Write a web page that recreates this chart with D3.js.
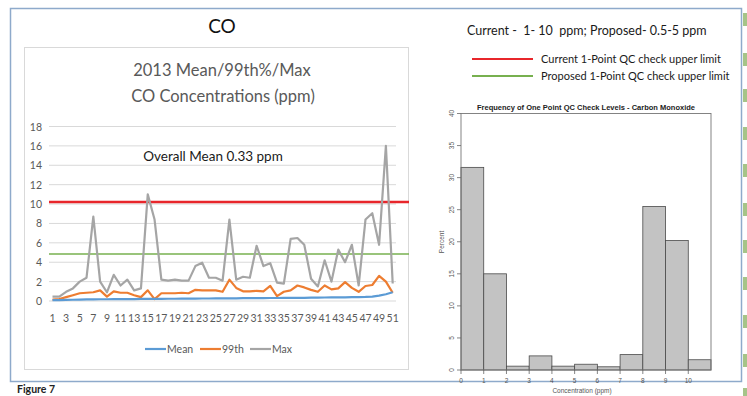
<!DOCTYPE html>
<html><head><meta charset="utf-8">
<script src="https://cdn.jsdelivr.net/npm/d3@7"></script>
<style>body{margin:0;background:#fff}svg{display:block}</style>
</head><body>
<script>
// ---- line chart data (monitor index 1..51) ----
const sites = d3.range(1, 52);
const meanVals = [0.08,0.1,0.12,0.13,0.15,0.16,0.17,0.18,0.18,0.19,0.19,0.2,0.2,0.21,0.21,0.22,0.22,0.23,0.23,0.24,0.24,0.25,0.26,0.26,0.27,0.27,0.28,0.28,0.29,0.29,0.3,0.3,0.31,0.31,0.32,0.32,0.33,0.33,0.34,0.35,0.36,0.37,0.38,0.38,0.39,0.4,0.42,0.46,0.55,0.7,0.9];
const p99Vals = [0.15,0.2,0.4,0.6,0.8,0.85,0.9,1.1,0.45,1.0,0.85,0.85,0.6,0.4,1.1,0.2,0.8,0.8,0.8,0.85,0.8,1.15,1.1,1.1,1.1,0.95,2.2,1.35,1.0,1.0,1.05,1.0,1.55,0.5,0.95,1.1,1.6,1.4,1.15,0.95,1.6,1.2,1.3,1.95,1.35,0.95,1.55,1.65,2.6,2.0,0.85];
const maxVals = [0.45,0.45,0.95,1.3,2.0,2.4,8.7,2.0,0.9,2.7,1.6,2.2,1.1,1.3,11.0,8.4,2.2,2.1,2.2,2.1,2.1,3.6,3.95,2.4,2.4,2.1,8.4,2.2,2.5,2.4,5.7,3.6,3.9,1.9,1.8,6.4,6.5,5.8,2.3,1.5,4.2,2.0,5.3,4.0,5.8,1.6,8.4,9.05,5.8,16.0,1.8];
const yTicksLine = [0,2,4,6,8,10,12,14,16,18];
const currentLimit = 10.2;
const proposedLimit = 4.85;
const seriesNames = ["Mean","99th","Max"];
const seriesColors = ["#5b9bd5","#ed7d31","#a5a5a5"];

// ---- histogram data ----
const binStarts = [0,1,2,3,4,5,6,7,8,9,10];
const binPercent = [31.6,15.0,0.6,2.2,0.6,0.9,0.5,2.4,25.5,20.2,1.6];
const histXTicks = [0,1,2,3,4,5,6,7,8,9,10];
const histYTicks = [0,5,10,15,20,25,30,35,40];

const narrow = "Lato,'Open Sans',sans-serif";
const svg = d3.select("body").append("svg").attr("width",747).attr("height",396);

// outer frame and right-edge green marks
svg.append("rect").attr("x",10.5).attr("y",8.5).attr("width",731).attr("height",373)
  .attr("fill","none").attr("stroke","#8eaacb").attr("stroke-width",1.5);
const markY = [13,53,89,127,164,203,240,277,315,354,388];
svg.selectAll("rect.mark").data(markY).join("rect").attr("class","mark")
  .attr("x",743).attr("y",d=>d).attr("width",4).attr("height",13).attr("fill","#a6c488");

// ---- left: line chart ----
svg.append("text").attr("x",222).attr("y",33).attr("text-anchor","middle")
  .attr("font-family",narrow).attr("font-size",19).attr("fill","#111").text("CO");
svg.append("rect").attr("x",24.5).attr("y",47.5).attr("width",384).attr("height",322)
  .attr("fill","#fff").attr("stroke","#d9d9d9");
svg.append("text").attr("x",222).attr("y",76).attr("text-anchor","middle")
  .attr("font-family",narrow).attr("font-size",16.5).attr("fill","#595959").text("2013 Mean/99th%/Max");
svg.append("text").attr("x",223).attr("y",102).attr("text-anchor","middle")
  .attr("font-family",narrow).attr("font-size",16.5).attr("fill","#595959").text("CO Concentrations (ppm)");

const xb = d3.scaleBand().domain(sites).range([49.1,396.1]);
const xc = d => xb(d) + xb.bandwidth()/2;
const y = d3.scaleLinear().domain([0,18]).range([301,126.5]);

svg.append("g").selectAll("line").data(yTicksLine).join("line")
  .attr("x1",49).attr("x2",396).attr("y1",d=>y(d)).attr("y2",d=>y(d))
  .attr("stroke","#d9d9d9").attr("stroke-width",1);
svg.append("g").selectAll("text").data(yTicksLine).join("text")
  .attr("x",42).attr("y",d=>y(d)+4).attr("text-anchor","end")
  .attr("font-family",narrow).attr("font-size",10.5).attr("fill","#595959").text(d=>d);
svg.append("g").selectAll("text").data(sites.filter(d=>d%2===1)).join("text")
  .attr("x",d=>xc(d)).attr("y",322).attr("text-anchor","middle")
  .attr("font-family",narrow).attr("font-size",10.5).attr("fill","#595959").text(d=>d);

svg.append("text").attr("x",213).attr("y",161).attr("text-anchor","middle")
  .attr("font-family",narrow).attr("font-size",13.5).attr("fill","#1a1a1a").text("Overall Mean 0.33 ppm");

svg.append("line").attr("x1",49).attr("x2",409).attr("y1",y(currentLimit)).attr("y2",y(currentLimit))
  .attr("stroke","#e8262b").attr("stroke-width",2.5);
svg.append("line").attr("x1",49).attr("x2",409).attr("y1",y(proposedLimit)).attr("y2",y(proposedLimit))
  .attr("stroke","#77b04f").attr("stroke-width",1.6);

const line = d3.line().x((d,i)=>xc(sites[i])).y(d=>y(d));
[maxVals,p99Vals,meanVals].forEach((vals,k)=>{
  const idx = 2-k;
  svg.append("path").datum(vals).attr("d",line).attr("fill","none")
    .attr("stroke",seriesColors[idx]).attr("stroke-width",2.2).attr("stroke-linejoin","round");
});

const legX = [145,200,250];
seriesNames.forEach((n,i)=>{
  svg.append("line").attr("x1",legX[i]).attr("x2",legX[i]+21).attr("y1",349).attr("y2",349)
    .attr("stroke",seriesColors[i]).attr("stroke-width",2.2);
  svg.append("text").attr("x",legX[i]+22).attr("y",353)
    .attr("font-family",narrow).attr("font-size",10.5).attr("fill","#595959").text(n);
});

svg.append("text").attr("x",17).attr("y",393).attr("font-family",narrow).attr("font-weight","bold")
  .attr("font-size",10.5).attr("fill","#222").text("Figure 7");

// ---- right: header and legend ----
svg.append("text").attr("x",467).attr("y",35).attr("font-family",narrow).attr("font-size",12.5)
  .attr("fill","#1a1a1a").attr("xml:space","preserve").text("Current -  1- 10  ppm; Proposed- 0.5-5 ppm");
const limitLegend = [["Current 1-Point QC check upper limit","#e8262b",59],["Proposed 1-Point QC check upper limit","#77b04f",76]];
limitLegend.forEach(([t,c,yy])=>{
  svg.append("line").attr("x1",472).attr("x2",533).attr("y1",yy).attr("y2",yy).attr("stroke",c).attr("stroke-width",1.8);
  svg.append("text").attr("x",541).attr("y",yy+4).attr("font-family",narrow).attr("font-size",11)
    .attr("fill","#1a1a1a").text(t);
});

// ---- histogram ----
const xh = d3.scaleLinear().domain([0,11]).range([461,711]);
const yh = d3.scaleLinear().domain([0,40]).range([370,113.5]);
const sans = "'Liberation Sans',Arial,sans-serif";
svg.append("text").attr("x",(xh(0)+xh(11))/2).attr("y",109.5).attr("text-anchor","middle")
  .attr("font-family",sans).attr("font-weight","bold").attr("font-size",7.5).attr("fill","#222")
  .text("Frequency of One Point QC Check Levels - Carbon Monoxide");
svg.selectAll("rect.bar").data(binStarts).join("rect").attr("class","bar")
  .attr("x",d=>xh(d)).attr("width",d=>xh(d+1)-xh(d))
  .attr("y",(d,i)=>yh(binPercent[i])).attr("height",(d,i)=>yh(0)-yh(binPercent[i]))
  .attr("fill","#c3c3c3").attr("stroke","#4a4a4a").attr("stroke-width",0.8);
svg.append("rect").attr("x",xh(0)).attr("y",yh(40)).attr("width",xh(11)-xh(0)).attr("height",yh(0)-yh(40))
  .attr("fill","none").attr("stroke","#777").attr("stroke-width",0.9);
svg.append("g").selectAll("line").data(histYTicks).join("line")
  .attr("x1",457).attr("x2",xh(0)).attr("y1",d=>yh(d)).attr("y2",d=>yh(d)).attr("stroke","#666").attr("stroke-width",0.8);
svg.append("g").selectAll("text").data(histYTicks).join("text")
  .attr("transform",d=>`translate(454,${yh(d)}) rotate(-90)`).attr("text-anchor","middle")
  .attr("font-family",sans).attr("font-size",6.5).attr("fill","#555").text(d=>d);
svg.append("g").selectAll("line").data(histXTicks).join("line")
  .attr("x1",d=>xh(d)).attr("x2",d=>xh(d)).attr("y1",370).attr("y2",374).attr("stroke","#666").attr("stroke-width",0.8);
svg.append("g").selectAll("text").data(histXTicks).join("text")
  .attr("x",d=>xh(d)).attr("y",382.5).attr("text-anchor","middle")
  .attr("font-family",sans).attr("font-size",6.5).attr("fill","#555").text(d=>d);
svg.append("text").attr("transform","translate(444,242) rotate(-90)").attr("text-anchor","middle")
  .attr("font-family",sans).attr("font-size",6.5).attr("fill","#555").text("Percent");
svg.append("text").attr("x",582).attr("y",392.5).attr("text-anchor","middle")
  .attr("font-family",sans).attr("font-size",6.5).attr("fill","#555").text("Concentration (ppm)");
</script>
</body></html>
